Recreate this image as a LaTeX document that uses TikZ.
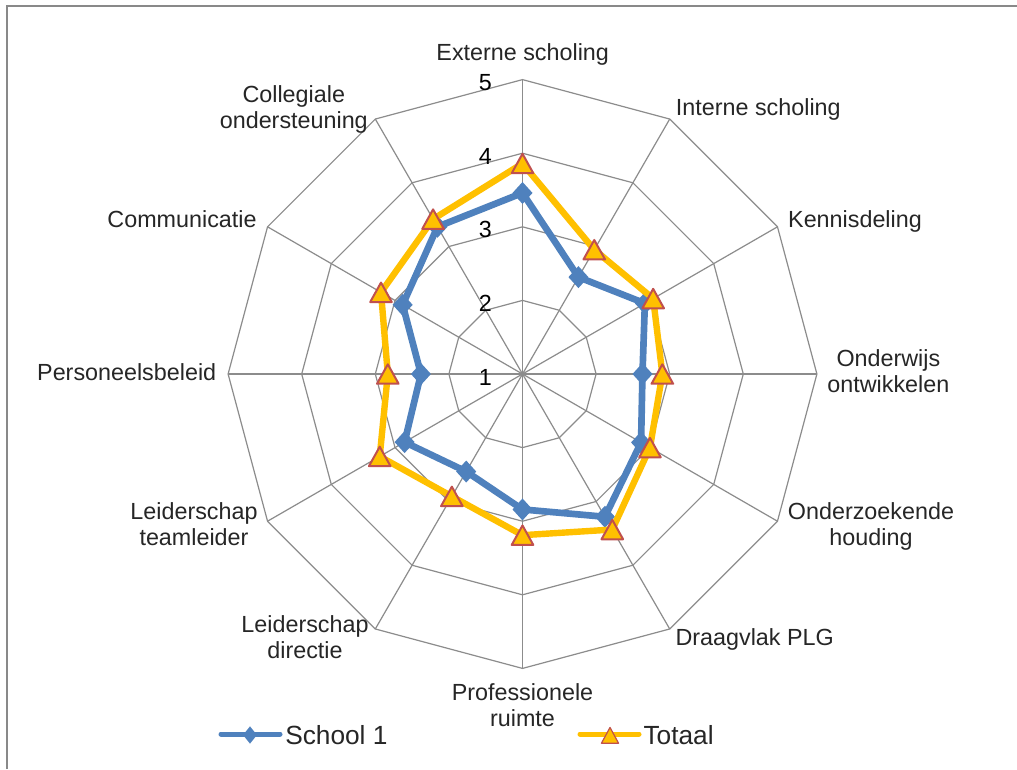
\documentclass[tikz,border=0pt]{standalone}
\usepackage{fontspec}
\setmainfont{Liberation Sans}
\definecolor{sblue}{HTML}{4F81BD}
\definecolor{torange}{HTML}{FFC000}
\definecolor{tred}{HTML}{C0504D}
\definecolor{gridgray}{HTML}{8C8C8C}
\definecolor{labelgray}{HTML}{262626}
\definecolor{framegray}{HTML}{898989}
\tikzset{
  catlabel/.style={anchor=base, inner sep=0pt, text=labelgray, font=\fontsize{17.5pt}{19.5pt}\selectfont},
  ticklabel/.style={anchor=east, inner sep=0pt, text=black, font=\fontsize{17.5pt}{19.5pt}\selectfont},
  legendtext/.style={anchor=base west, inner sep=0pt, text=labelgray, font=\fontsize{19.7pt}{22pt}\selectfont},
  gridline/.style={draw=gridgray, line width=0.9pt},
  blueline/.style={draw=sblue, line width=5pt, line join=round},
  orangeline/.style={draw=torange, line width=4.8pt, line join=round},
  diamondmark/.pic={\fill[sblue] (0pt,8.25pt) -- (7.5pt,0pt) -- (0pt,-8.25pt) -- (-7.5pt,0pt) -- cycle;},
  trimark/.pic={\filldraw[fill=torange, draw=tred, line width=1.5pt, line join=round] (0pt,7.3pt) -- (8.1pt,-7.3pt) -- (-8.1pt,-7.3pt) -- cycle;},
  legdiamond/.pic={\fill[sblue] (0pt,6.5pt) -- (5.2pt,0pt) -- (0pt,-6.5pt) -- (-5.2pt,0pt) -- cycle;},
  legtri/.pic={\filldraw[fill=torange, draw=tred, line width=0.9pt, line join=round] (0pt,5.9pt) -- (6.4pt,-5.9pt) -- (-6.4pt,-5.9pt) -- cycle;},
}
\begin{document}
\begin{tikzpicture}[x=0.75pt,y=-0.75pt]
\useasboundingbox (0,0) rectangle (1017,769);
\fill[white] (0,0) rectangle (1017,769);
\draw[framegray, line width=1.5pt] (7,769) -- (7,6) -- (1017,6);

\begin{scope}[shift={(522.5,374)}, y=0.75pt]
  \coordinate (c) at (0,0);
  \foreach \k in {0,...,11} { \coordinate (o\k) at ({90-30*\k}:294.4); }
  % rings
  \foreach \v in {1,2,3,4} {
    \draw[gridline] (90:{73.6*\v}) \foreach \k in {1,...,11} { -- ({90-30*\k}:{73.6*\v}) } -- cycle;
  }
  % spokes
  \foreach \k in {0,...,11} { \draw[gridline] (c) -- (o\k); }
  % tick labels
  \foreach \v in {1,...,5} { \node[ticklabel] (t\v) at (-30.5,{73.6*(\v-1)-3}) {\v}; }
  % data: School 1
  \foreach \k/\v in {0/3.46,1/2.52,2/2.92,3/2.63,4/2.86,5/3.24,6/2.84,7/2.53,8/2.85,9/2.38,10/2.88,11/3.31}
    { \coordinate (b\k) at ({90-30*\k}:{(\v-1)*73.6}); }
  % data: Totaal
  \foreach \k/\v in {0/3.86,1/2.95,2/3.05,3/2.90,4/3.00,5/3.44,6/3.19,7/2.92,8/3.24,9/2.83,10/3.22,11/3.43}
    { \coordinate (r\k) at ({90-30*\k}:{(\v-1)*73.6}); }
  \draw[blueline] (b0) \foreach \k in {1,...,11} { -- (b\k) } -- cycle;
  \foreach \k in {0,...,11} { \pic at (b\k) {diamondmark}; }
  \draw[orangeline] (r0) \foreach \k in {1,...,11} { -- (r\k) } -- cycle;
  \foreach \k in {0,...,11} { \pic at (r\k) {trimark}; }
\end{scope}

% category labels
\node[catlabel] (l0) at (522.7,60.7) {Externe scholing};
\node[catlabel] (l1) at (758.3,115.7) {Interne scholing};
\node[catlabel] (l2) at (855,227.7) {Kennisdeling};
\node[catlabel] (l3) at (888.4,366.5) {\begin{tabular}[t]{@{}c@{}}Onderwijs\\ontwikkelen\end{tabular}};
\node[catlabel] (l4) at (871,519.3) {\begin{tabular}[t]{@{}c@{}}Onderzoekende\\houding\end{tabular}};
\node[catlabel] (l5) at (754.7,645) {Draagvlak PLG};
\node[catlabel] (l6) at (522.5,700) {\begin{tabular}[t]{@{}c@{}}Professionele\\ruimte\end{tabular}};
\node[catlabel] (l7) at (305,632.7) {\begin{tabular}[t]{@{}c@{}}Leiderschap\\directie\end{tabular}};
\node[catlabel] (l8) at (194,519.3) {\begin{tabular}[t]{@{}c@{}}Leiderschap\\teamleider\end{tabular}};
\node[catlabel] (l9) at (126.7,380) {Personeelsbeleid};
\node[catlabel] (l10) at (182,227.7) {Communicatie};
\node[catlabel] (l11) at (293.8,102.7) {\begin{tabular}[t]{@{}c@{}}Collegiale\\ondersteuning\end{tabular}};

% legend
\coordinate (lb1) at (221,734);
\coordinate (lb2) at (280,734);
\draw[sblue, line width=3.75pt, line cap=round] (lb1) -- (lb2);
\pic at (250,735) {legdiamond};
\node[legendtext] (leg1) at (285,744) {School 1};
\coordinate (lo1) at (580,734);
\coordinate (lo2) at (639,734);
\draw[torange, line width=3.75pt, line cap=round] (lo1) -- (lo2);
\pic at (610,735.3) {legtri};
\node[legendtext] (leg2) at (643.3,744) {Totaal};
\end{tikzpicture}
\end{document}
